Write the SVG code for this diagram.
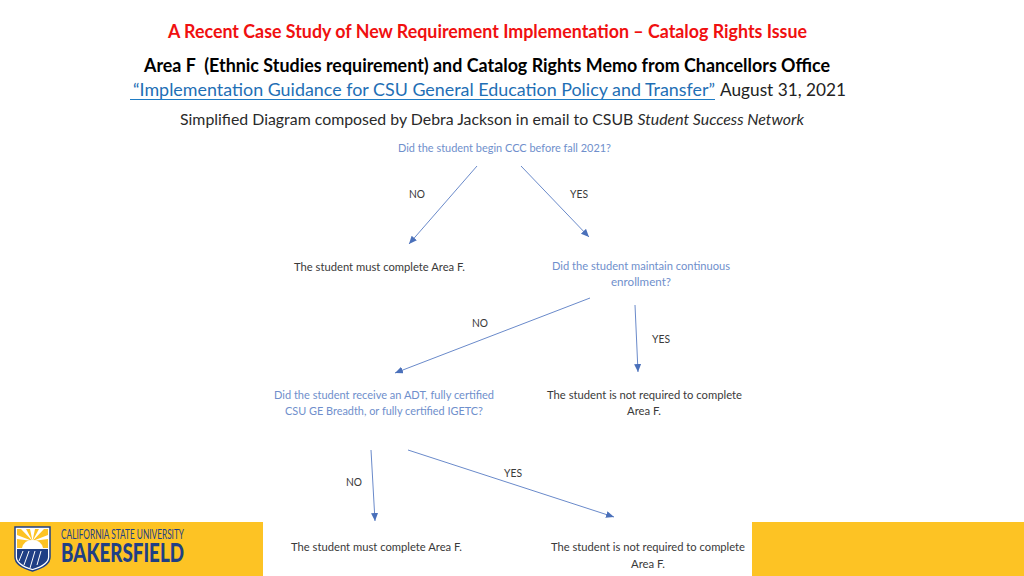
<svg xmlns="http://www.w3.org/2000/svg" width="1024" height="576" viewBox="0 0 1024 576">
<style>
text{font-family:Lato,"Open Sans","Liberation Sans",sans-serif}
.h{font-size:18px;font-weight:700;fill:#000}
.s{font-size:16px;fill:#2a2a2a}
.d{font-size:12px;fill:#3a3a3a}
.c{stroke:#6a8aca;stroke-width:1;fill:none;marker-end:url(#a)}
</style>
<defs><marker id="a" markerUnits="userSpaceOnUse" markerWidth="10" markerHeight="9" refX="8" refY="3.5" orient="auto"><path d="M0 0L8 3.500L0 7z" fill="#4a70ba"/></marker></defs>
<rect width="1024" height="576" fill="#fff"/>
<g id="footer">
<rect y="522" width="263" height="54" fill="#fdc324"/>
<rect x="752" y="522" width="272" height="54" fill="#fdc324"/>
<path d="M15 527H50V557Q50 566 32.500 571Q15 566 15 557Z" fill="#fff" stroke="#1f3f85" stroke-width="1.500"/>
<path d="M17 529H48V548H17Z" fill="#fdc324"/>
<path d="M32.500 541L21 529H26L32.500 541L30 529H35L32.500 541L39 529H44ZM32.500 541L17 535V539ZM32.500 541L48 535V539Z" fill="#fff"/>
<path d="M22 548Q24 540 32.500 540Q41 540 43 548Z" fill="#fff"/>
<path d="M17 549H48V557Q48 564 32.500 569Q17 564 17 557Z" fill="#1f3f85"/>
<path d="M23 551L19 561M29 551L24 565M35 551L30 568M41 551L37 565" stroke="#fff" stroke-width="1" fill="none"/>
<text x="61" y="539" font-size="12.500" fill="#1f3f85" textLength="123" lengthAdjust="spacingAndGlyphs">CALIFORNIA STATE UNIVERSITY</text>
<text x="61" y="562" font-size="26" font-weight="900" fill="#1f3f85" textLength="123" lengthAdjust="spacingAndGlyphs">BAKERSFIELD</text>
</g>
<g id="title">
<text x="168" y="38" class="h" style="fill:#f01010" textLength="639" lengthAdjust="spacingAndGlyphs">A Recent Case Study of New Requirement Implementation – Catalog Rights Issue</text>
<text x="144" y="71.500" class="h" textLength="686" lengthAdjust="spacingAndGlyphs" xml:space="preserve">Area F  (Ethnic Studies requirement) and Catalog Rights Memo from Chancellors Office</text>
<text x="133" y="96" font-size="17.500" fill="#1f6fb5" textLength="582" lengthAdjust="spacingAndGlyphs">“Implementation Guidance for CSU General Education Policy and Transfer”</text>
<line x1="130" y1="99.500" x2="715" y2="99.500" stroke="#1f7cc4" stroke-width="1"/>
<text x="720" y="96" font-size="17.500" fill="#222" textLength="126" lengthAdjust="spacingAndGlyphs">August 31, 2021</text>
<text x="180" y="125" class="s" textLength="624" lengthAdjust="spacingAndGlyphs">Simplified Diagram composed by Debra Jackson in email to CSUB <tspan font-style="italic">Student Success Network</tspan></text>
</g>
<g id="connectors">
<line class="c" x1="477" y1="166" x2="409" y2="244"/>
<line class="c" x1="521" y1="166" x2="589" y2="237"/>
<line class="c" x1="590" y1="298" x2="395" y2="373"/>
<line class="c" x1="635" y1="305" x2="638" y2="372"/>
<line class="c" x1="371" y1="450" x2="375" y2="521"/>
<line class="c" x1="408" y1="450" x2="614" y2="517"/>
</g>
<g id="edge-labels">
<text x="409" y="198" class="d" textLength="16" lengthAdjust="spacingAndGlyphs">NO</text>
<text x="570" y="198" class="d" textLength="18" lengthAdjust="spacingAndGlyphs">YES</text>
<text x="472" y="327" class="d" textLength="16" lengthAdjust="spacingAndGlyphs">NO</text>
<text x="652" y="343" class="d" textLength="18" lengthAdjust="spacingAndGlyphs">YES</text>
<text x="346" y="486" class="d" textLength="16" lengthAdjust="spacingAndGlyphs">NO</text>
<text x="504" y="477" class="d" textLength="18" lengthAdjust="spacingAndGlyphs">YES</text>
</g>
<g id="n1"><text x="398" y="152" class="d" style="fill:#6f8fcc" textLength="213" lengthAdjust="spacingAndGlyphs">Did the student begin CCC before fall 2021?</text></g>
<g id="n2"><text x="294" y="271" class="d" textLength="171" lengthAdjust="spacingAndGlyphs">The student must complete Area F.</text></g>
<g id="n3"><text x="552" y="270" class="d" style="fill:#6f8fcc" textLength="178" lengthAdjust="spacingAndGlyphs">Did the student maintain continuous</text><text x="611" y="286" class="d" style="fill:#6f8fcc" textLength="60" lengthAdjust="spacingAndGlyphs">enrollment?</text></g>
<g id="n4"><text x="274" y="399" class="d" style="fill:#6f8fcc" textLength="220" lengthAdjust="spacingAndGlyphs">Did the student receive an ADT, fully certified</text><text x="285" y="415" class="d" style="fill:#6f8fcc" textLength="198" lengthAdjust="spacingAndGlyphs">CSU GE Breadth, or fully certified IGETC?</text></g>
<g id="n5"><text x="547" y="399" class="d" textLength="195" lengthAdjust="spacingAndGlyphs">The student is not required to complete</text><text x="627" y="415" class="d" textLength="34" lengthAdjust="spacingAndGlyphs">Area F.</text></g>
<g id="n6"><text x="291" y="551" class="d" textLength="171" lengthAdjust="spacingAndGlyphs">The student must complete Area F.</text></g>
<g id="n7"><text x="551" y="551" class="d" textLength="194" lengthAdjust="spacingAndGlyphs">The student is not required to complete</text><text x="631" y="568" class="d" textLength="34" lengthAdjust="spacingAndGlyphs">Area F.</text></g>
</svg>
